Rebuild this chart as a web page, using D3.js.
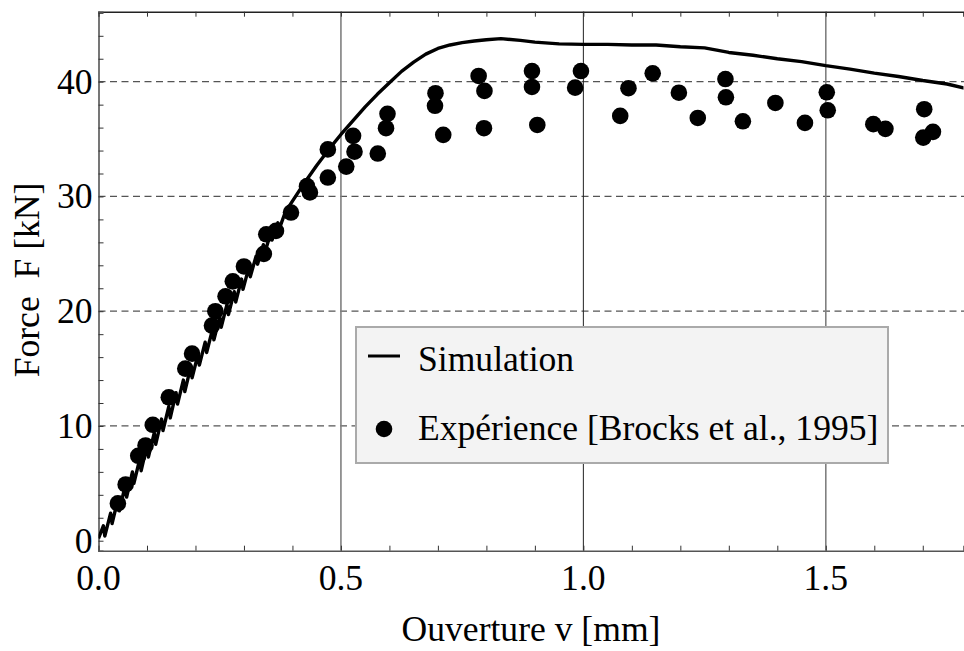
<!DOCTYPE html>
<html>
<head>
<meta charset="utf-8">
<script src="https://cdn.jsdelivr.net/npm/d3@7"></script>
<style>
  html, body { margin: 0; padding: 0; background: #fff; }
  svg { display: block; }
</style>
</head>
<body>
<svg id="chart" width="964" height="651"></svg>
<script>
// ---- data ----
const simV = [0.000,0.010,0.013,0.025,0.028,0.040,0.043,0.055,0.058,0.070,0.073,0.085,0.088,0.100,0.103,0.115,0.118,0.130,0.133,0.145,0.148,0.160,0.163,0.175,0.178,0.190,0.193,0.205,0.208,0.220,0.223,0.235,0.238,0.250,0.253,0.265,0.268,0.280,0.283,0.295,0.298,0.310,0.313,0.325,0.328,0.340,0.343,0.355,0.358,0.370,0.373,0.385,0.400,0.425,0.450,0.475,0.500,0.525,0.550,0.575,0.600,0.625,0.650,0.675,0.700,0.725,0.750,0.775,0.800,0.830,0.870,0.900,0.950,1.000,1.050,1.100,1.150,1.200,1.250,1.300,1.350,1.400,1.450,1.500,1.550,1.600,1.650,1.700,1.750,1.790];
const simF = [0.2,1.3,0.4,2.4,1.5,3.6,2.6,4.8,3.8,6.0,5.0,7.1,6.1,8.3,7.3,9.4,8.4,10.6,9.6,11.7,10.7,12.9,11.9,14.0,13.0,15.1,14.2,16.2,15.3,17.3,16.4,18.4,17.5,19.5,18.6,20.6,19.7,21.7,20.8,22.8,21.9,23.8,23.0,24.8,24.1,25.8,25.1,26.8,26.2,27.7,27.2,28.6,29.6,31.2,32.7,34.1,35.4,36.6,37.8,38.9,39.9,40.9,41.7,42.4,42.9,43.2,43.4,43.55,43.65,43.75,43.6,43.45,43.3,43.25,43.25,43.2,43.2,43.05,42.95,42.55,42.3,42.0,41.75,41.4,41.1,40.75,40.45,40.1,39.8,39.4];

const expV = [0.040,0.056,0.082,0.097,0.112,0.145,0.179,0.193,0.234,0.241,0.262,0.277,0.300,0.341,0.346,0.366,0.397,0.430,0.436,0.473,0.473,0.511,0.525,0.528,0.576,0.593,0.596,0.694,0.695,0.711,0.784,0.796,0.795,0.894,0.894,0.905,0.995,0.983,1.076,1.093,1.143,1.197,1.236,1.293,1.294,1.329,1.396,1.457,1.502,1.504,1.598,1.623,1.703,1.701,1.721];
const expF = [3.25,4.9,7.4,8.3,10.1,12.5,15.0,16.3,18.75,20.0,21.3,22.6,23.9,25.0,26.7,27.0,28.6,30.9,30.35,31.65,34.1,32.6,35.28,33.9,33.74,35.95,37.2,37.9,39.0,35.37,40.5,39.2,35.95,40.93,39.54,36.23,40.93,39.48,37.02,39.43,40.73,39.04,36.84,40.23,38.64,36.55,38.15,36.41,39.08,37.51,36.3,35.89,37.6,35.13,35.63];

const xTicks = [0.0, 0.5, 1.0, 1.5];
const xTickLabels = ["0.0", "0.5", "1.0", "1.5"];
const xMinorTicks = [0.1,0.2,0.3,0.4,0.6,0.7,0.8,0.9,1.1,1.2,1.3,1.4,1.6,1.7];
const yTicks = [0, 10, 20, 30, 40];
const yMinorTicks = [2,4,6,8,12,14,16,18,22,24,26,28,32,34,36,38,42,44,46];
const xTitle = "Ouverture v [mm]";
const yTitle = "Force  F [kN]";
const legendLabels = ["Simulation", "Expérience [Brocks et al., 1995]"];

// ---- layout ----
const FONT = "'Liberation Serif', 'Times New Roman', Times, serif";
const svg = d3.select("#chart");
const L = 98.5, R = 963.5, T = 11.7, B = 550.7;
const x = d3.scaleLinear().domain([0, 1.784]).range([L, R]);
const y = d3.scaleLinear().domain([-0.87, 46.1]).range([B, T]);
const FS = 35.6;

svg.append("defs").append("clipPath").attr("id", "clip")
  .append("rect").attr("x", L).attr("y", T).attr("width", R - L).attr("height", B - T);

// gridlines
const grid = svg.append("g");
grid.selectAll("line.hg").data(yTicks.filter(d => d > 0)).join("line")
  .attr("x1", L).attr("x2", 964).attr("y1", d => y(d)).attr("y2", d => y(d))
  .attr("stroke", "#555").attr("stroke-width", 1.2).attr("stroke-dasharray", "7,4.5");
grid.selectAll("line.vg").data(xTicks.filter(d => d > 0)).join("line")
  .attr("x1", d => x(d)).attr("x2", d => x(d)).attr("y1", T).attr("y2", B)
  .attr("stroke", d => d === 1.0 ? "#222" : "#808080")
  .attr("stroke-width", d => d === 1.0 ? 1 : 1.6);

// axes (ticks inward)
const tl = 5;
const xAxisB = d3.axisBottom(x).tickValues(xMinorTicks.concat(xTicks)).tickSize(-tl).tickFormat(() => "");
const xAxisT = d3.axisTop(x).tickValues(xMinorTicks.concat(xTicks)).tickSize(-tl).tickFormat(() => "");
const yAxisL = d3.axisLeft(y).tickValues(yMinorTicks.concat(yTicks)).tickSize(-tl).tickFormat(() => "");

function styleAxis(g) {
  g.select(".domain").attr("stroke", "#555").attr("stroke-width", 1.6);
  g.selectAll(".tick line").attr("stroke", "#333").attr("stroke-width", 1);
}
svg.append("g").attr("transform", `translate(0,${B})`).call(xAxisB).call(styleAxis);
svg.append("g").attr("transform", `translate(0,${T})`).call(xAxisT).call(styleAxis)
  .select(".domain").attr("stroke", "#222");
svg.append("g").attr("transform", `translate(${L},0)`).call(yAxisL).call(styleAxis);

// tick labels
svg.append("g").selectAll("text").data(xTicks).join("text")
  .attr("x", d => x(d)).attr("y", B + 39)
  .attr("text-anchor", "middle").attr("font-size", FS).attr("font-family", FONT)
  .text((d, i) => xTickLabels[i]);
svg.append("g").selectAll("text").data(yTicks).join("text")
  .attr("x", L - 6).attr("y", d => y(d) + 12)
  .attr("text-anchor", "end").attr("font-size", FS).attr("font-family", FONT)
  .text(d => d);

// axis titles
svg.append("text").attr("x", (L + R) / 2).attr("y", 641)
  .attr("text-anchor", "middle").attr("font-size", FS).attr("font-family", FONT).text(xTitle);
svg.append("text").attr("transform", `translate(39,${280}) rotate(-90)`)
  .attr("text-anchor", "middle").attr("font-size", FS).attr("font-family", FONT)
  .style("white-space", "pre").text(yTitle);

// data
const plot = svg.append("g").attr("clip-path", "url(#clip)");
const simData = simV.map((v, i) => [v, simF[i]]);
plot.append("path").datum(simData)
  .attr("fill", "none").attr("stroke", "#000").attr("stroke-width", 3.4)
  .attr("stroke-linejoin", "round")
  .attr("d", d3.line().x(d => x(d[0])).y(d => y(d[1])));
const expData = expV.map((v, i) => [v, expF[i]]);
plot.append("g").selectAll("circle").data(expData).join("circle")
  .attr("cx", d => x(d[0])).attr("cy", d => y(d[1])).attr("r", 8.3).attr("fill", "#000");

// legend
const lg = svg.append("g");
lg.append("rect").attr("x", 356).attr("y", 327).attr("width", 532).attr("height", 136)
  .attr("fill", "#f3f3f3").attr("stroke", "#aaa").attr("stroke-width", 2);
lg.append("line").attr("x1", 368).attr("x2", 400).attr("y1", 356).attr("y2", 356)
  .attr("stroke", "#000").attr("stroke-width", 3);
lg.append("circle").attr("cx", 384).attr("cy", 429).attr("r", 8.3).attr("fill", "#000");
lg.selectAll("text").data(legendLabels).join("text")
  .attr("x", 418).attr("y", (d, i) => i === 0 ? 371 : 440)
  .attr("font-size", FS).attr("font-family", FONT).text(d => d);
</script>
</body>
</html>
